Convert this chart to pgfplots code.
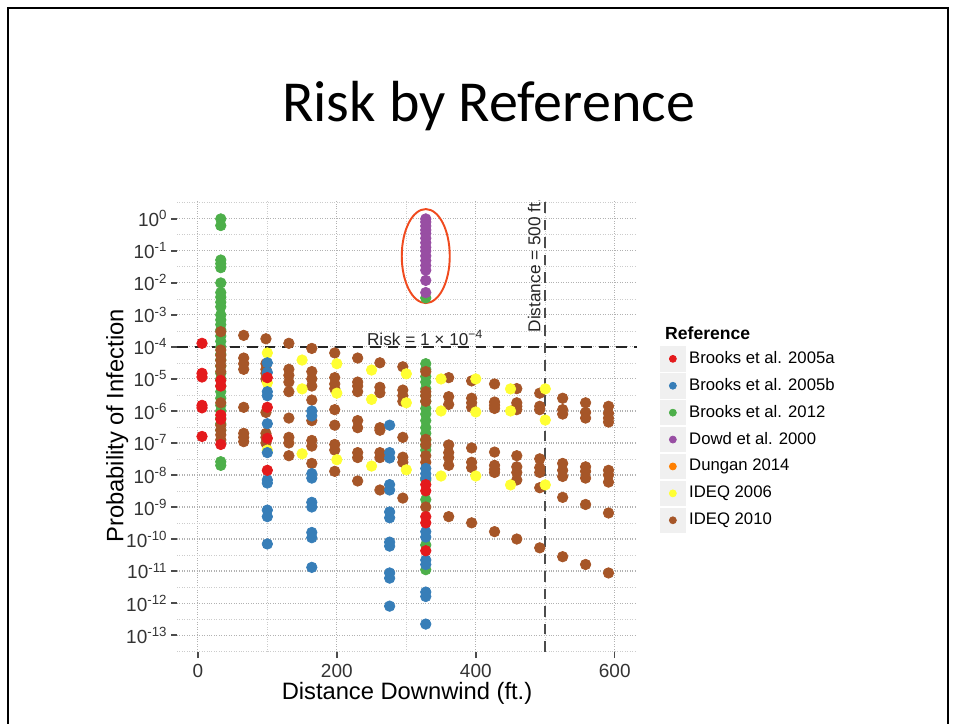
\documentclass[border=0pt]{standalone}
\usepackage{pgfplots}
\pgfplotsset{compat=1.18}
\usepackage{fontspec}
\setmainfont{Liberation Sans}
\newfontfamily\titlefont{Carlito}
\definecolor{cRed}{HTML}{E41A1C}
\definecolor{cBlue}{HTML}{377EB8}
\definecolor{cGreen}{HTML}{4DAF4A}
\definecolor{cPurple}{HTML}{984EA3}
\definecolor{cOrange}{HTML}{FF7F00}
\definecolor{cYellow}{HTML}{FFFF33}
\definecolor{cBrown}{HTML}{A65628}
\definecolor{ringcol}{HTML}{F04A1E}
\begin{document}
\begin{tikzpicture}
\useasboundingbox (0,0) rectangle (19.12,14.46);
% slide frame
\draw[line width=0.04cm] (0.16,-0.5) -- (0.16,14.30) -- (18.96,14.30) -- (18.96,-0.5);
\node[anchor=base, font=\titlefont\fontsize{33}{36}\selectfont] at (9.77,12.02) {Risk by Reference};
\begin{axis}[
  at={(3.54cm,1.42cm)}, anchor=south west,
  scale only axis, width=9.2cm, height=9.04cm,
  ymode=log, log basis y=10,
  xmin=-30, xmax=632,
  ymin=2.95e-14, ymax=3.9,
  xtick={0,200,400,600},
  minor xtick={100,300,500},
  ytick={1,1e-1,1e-2,1e-3,1e-4,1e-5,1e-6,1e-7,1e-8,1e-9,1e-10,1e-11,1e-12,1e-13},
  yticklabels={10\textsuperscript{0},10\textsuperscript{-1},10\textsuperscript{-2},10\textsuperscript{-3},10\textsuperscript{-4},10\textsuperscript{-5},10\textsuperscript{-6},10\textsuperscript{-7},10\textsuperscript{-8},10\textsuperscript{-9},10\textsuperscript{-10},10\textsuperscript{-11},10\textsuperscript{-12},10\textsuperscript{-13}},
  minor ytick={3.162,3.162e-1,3.162e-2,3.162e-3,3.162e-4,3.162e-5,3.162e-6,3.162e-7,3.162e-8,3.162e-9,3.162e-10,3.162e-11,3.162e-12,3.162e-13,3.162e-14},
  grid=both,
  major grid style={densely dotted, black!30, line width=0.6pt},
  minor grid style={densely dotted, black!20, line width=0.5pt},
  axis line style={draw=none},
  tick align=outside, xtick pos=bottom, ytick pos=left,
  major tick length=0.12cm, minor tick length=0pt,
  every tick/.style={black!70, line width=0.8pt},
  /pgf/number format/assume math mode=true,
  tick label style={font=\fontsize{10.8}{12}\selectfont, text=black!80},
  yticklabel style={xshift=1.5pt},
  xlabel={Distance Downwind (ft.)},
  ylabel={Probability of Infection},
  xlabel style={at={(axis description cs:0.5,-0.0907)}, anchor=center, font=\fontsize{13.5}{15}\selectfont},
  ylabel style={at={(axis description cs:-0.13,0.5)}, anchor=center, font=\fontsize{13.5}{15}\selectfont},
  every axis plot/.append style={only marks, mark=*, mark size=3.0pt},
  legend image code/.code={
    \fill[black!6] (0cm,-0.243cm) rectangle (0.486cm,0.243cm);
    \draw[mark size=2pt, mark repeat=2, mark phase=2] plot coordinates {(0cm,0cm) (0.243cm,0cm) (0.486cm,0cm)};
  },
  legend cell align=left,
  legend style={at={(1.05,0.677)}, anchor=north west, draw=none, fill=none,
    inner sep=0pt, row sep=0.038cm, font=\fontsize{9.5}{11}\selectfont,
    nodes={inner sep=0.5pt},
    /tikz/every odd column/.append style={column sep=0.06cm}},
]
% Brooks et al. 2012
\addplot[cGreen, forget plot] coordinates {
(33,1)(33,0.62)(33,0.052)(33,0.04)(33,0.03)(33,0.01)(33,0.005)(33,0.0036)(33,0.0025)(33,0.0018)
(33,1e-3)(33,7e-4)(33,5e-4)(33,3.4e-4)(33,2.2e-4)(33,1.5e-4)(33,1e-4)(33,6e-5)(33,4e-5)(33,2.5e-5)
(33,1.5e-5)(33,1e-5)(33,6e-6)(33,4e-6)(33,2.5e-6)(33,1.5e-6)(33,1e-6)(33,6e-7)(33,4e-7)(33,2.5e-7)
(33,2.6e-8)(33,2e-8)
(328,0.0034)
(328,3e-5)(328,2e-5)(328,1.2e-5)(328,8e-6)(328,5e-6)(328,3e-6)(328,2e-6)(328,1.2e-6)(328,8e-7)
(328,5e-7)(328,3e-7)(328,2e-7)(328,1.2e-7)(328,8e-8)(328,6e-8)(328,7e-9)(328,1.7e-9)(328,6.5e-11)(328,1.1e-11)
};
% Dowd et al. 2000
\addplot[cPurple, forget plot] coordinates {
(328,1)(328,0.8)(328,0.6)(328,0.45)(328,0.35)(328,0.25)(328,0.18)(328,0.13)(328,0.1)(328,0.07)
(328,0.05)(328,0.035)(328,0.025)(328,0.012)(328,0.005)
};
% IDEQ 2010
\addplot[cBrown, forget plot] coordinates {
(33,3e-4)(33,8e-5)(33,5.5e-5)(33,3.8e-5)(33,2.6e-5)(33,1.7e-5)(33,1.8e-6)(33,3.6e-7)(33,2.5e-7)(33,1.8e-7)(33,1.25e-7)
(66,2.3e-4)(66,4.5e-5)(66,3e-5)(66,2e-5)(66,1.3e-6)(66,2e-7)(66,1.5e-7)(66,1.1e-7)
(98,1.8e-4)(98,3e-5)(98,2e-5)(98,1.5e-5)(98,1e-5)(98,9e-7)(98,2e-7)(98,1.5e-7)(98,1e-7)
(131,1.3e-4)(131,2e-5)(131,1.3e-5)(131,8e-6)(131,4e-6)(131,6e-7)(131,1.5e-7)(131,1e-7)(131,4e-8)
(164,9e-5)(164,1.7e-5)(164,1e-5)(164,6e-6)(164,2.2e-6)(164,5e-7)(164,1.2e-7)(164,8e-8)(164,2.3e-8)
(197,6.5e-5)(197,1.1e-5)(197,7e-6)(197,5e-6)(197,1.1e-6)(197,3.6e-7)(197,9e-8)(197,6e-8)(197,1.3e-8)
(230,4.5e-5)(230,8e-6)(230,6e-6)(230,4e-6)(230,5e-7)(230,3e-7)(230,5e-8)(230,3.5e-8)(230,6.5e-9)
(262,3.2e-5)(262,5.5e-6)(262,3.7e-6)(262,3e-7)(262,2.5e-7)(262,5e-8)(262,3.5e-8)(262,3.4e-9)
(295,2.4e-5)(295,4.5e-6)(295,3e-6)(295,2e-6)(295,1.5e-7)(295,3.6e-8)(295,2.5e-8)(295,1.9e-9)
(328,1.7e-5)(328,4e-6)(328,3e-6)(328,2e-6)(328,1.3e-7)(328,9e-8)(328,4e-8)(328,2.5e-8)(328,1e-9)
(361,1.1e-5)(361,2.8e-6)(361,1.6e-6)(361,8.7e-8)(361,5e-8)(361,3.5e-8)(361,2e-8)(361,5e-10)
(394,8.7e-6)(394,2.5e-6)(394,1.8e-6)(394,1.3e-6)(394,7e-8)(394,2.5e-8)(394,1.7e-8)(394,3.2e-10)
(427,7e-6)(427,1.9e-6)(427,1.5e-6)(427,1.2e-6)(427,5.2e-8)(427,2e-8)(427,1.5e-8)(427,1.2e-8)(427,1.7e-10)
(459,5e-6)(459,1.8e-6)(459,1.4e-6)(459,1.1e-6)(459,4e-8)(459,1.8e-8)(459,1.2e-8)(459,7e-9)(459,1e-10)
(492,3.6e-6)(492,1.4e-6)(492,1.1e-6)(492,3.2e-8)(492,1.7e-8)(492,1.2e-8)(492,4e-9)(492,5.3e-11)
(525,2.5e-6)(525,1.1e-6)(525,8e-7)(525,2.3e-8)(525,1.4e-8)(525,9e-9)(525,2e-9)(525,2.8e-11)
(558,1.8e-6)(558,9e-7)(558,6e-7)(558,1.8e-8)(558,1.3e-8)(558,8e-9)(558,1.2e-9)(558,1.6e-11)
(591,1.4e-6)(591,8.5e-7)(591,6e-7)(591,4.5e-7)(591,1.4e-8)(591,1e-8)(591,6e-9)(591,6.5e-10)(591,8.7e-12)
};
% IDEQ 2006
\addplot[cYellow, forget plot] coordinates {
(100,6.5e-5)(100,7.6e-6)(100,6e-8)
(150,3.9e-5)(150,4.9e-6)(150,4.6e-8)
(200,3e-5)(200,3.6e-6)(200,3e-8)
(250,1.9e-5)(250,2.3e-6)(250,1.9e-8)
(300,1.45e-5)(300,1.8e-6)(300,1.45e-8)
(350,1e-5)(350,1e-6)(350,9.3e-9)
(400,1e-5)(400,9.3e-7)(400,9.3e-9)
(450,4.9e-6)(450,1e-6)(450,4.9e-9)
(500,4.9e-6)(500,5.2e-7)(500,4.9e-9)
};
% Brooks et al. 2005b
\addplot[cBlue, forget plot] coordinates {
(100,3.2e-5)(100,1.6e-5)(100,4e-6)(100,3e-6)(100,4e-7)(100,5e-8)(100,7e-9)(100,5.6e-9)(100,8e-10)(100,5e-10)(100,7e-11)
(164,1e-6)(164,7e-7)(164,1.1e-8)(164,8e-9)(164,1.4e-9)(164,1e-9)(164,1.6e-10)(164,1.1e-10)(164,1.3e-11)
(276,3.6e-7)(276,5e-8)(276,3.4e-8)(276,5e-9)(276,3.4e-9)(276,7e-10)(276,4.6e-10)(276,8e-11)(276,6e-11)(276,8.7e-12)(276,6e-12)(276,8e-13)
(328,1.6e-8)(328,1.1e-8)(328,8e-9)(328,1.7e-10)(328,1.15e-10)(328,2.2e-11)(328,1.6e-11)(328,2.2e-12)(328,1.6e-12)(328,2.2e-13)
};
% Brooks et al. 2005a
\addplot[cRed, forget plot] coordinates {
(6,1.3e-4)(6,1.5e-5)(6,1.15e-5)(6,1.5e-6)(6,1.25e-6)(6,1.6e-7)
(33,9e-6)(33,6e-6)(33,7.5e-7)(33,5.5e-7)(33,9e-8)
(100,1.1e-5)(100,1.3e-6)(100,1.4e-7)(100,1.4e-8)
(328,5e-9)(328,3.2e-9)(328,5e-10)(328,3.2e-10)(328,4.3e-11)
};
% reference lines and notes
\draw[dash pattern=on 6pt off 4pt, black!85, line width=1.1pt]
  ({rel axis cs:0,0}|-{axis cs:0,1e-4}) -- ({rel axis cs:1,0}|-{axis cs:0,1e-4});
\draw[dash pattern=on 6pt off 4pt, black!70, line width=1.1pt]
  ({axis cs:500,1}|-{rel axis cs:0,0}) -- ({axis cs:500,1}|-{rel axis cs:0,1});
\node[font=\fontsize{9.8}{11}\selectfont, text=black!85] at (axis cs:327,1.9e-4) {Risk = 1 × 10\textsuperscript{−4}};
\node[font=\fontsize{9.8}{11}\selectfont, text=black!85, rotate=90] at (axis cs:484,0.036) {Distance = 500 ft.};
\draw[ringcol, line width=1.1pt] (axis cs:328,0.069) ellipse [x radius=0.48cm, y radius=0.94cm];
% legend
\addlegendimage{cRed}\addlegendentry{Brooks et al. 2005a}
\addlegendimage{cBlue}\addlegendentry{Brooks et al. 2005b}
\addlegendimage{cGreen}\addlegendentry{Brooks et al. 2012}
\addlegendimage{cPurple}\addlegendentry{Dowd et al. 2000}
\addlegendimage{cOrange}\addlegendentry{Dungan 2014}
\addlegendimage{cYellow}\addlegendentry{IDEQ 2006}
\addlegendimage{cBrown}\addlegendentry{IDEQ 2010}
\end{axis}
\node[anchor=west, font=\bfseries\fontsize{10}{12}\selectfont] at (13.18,7.80) {Reference};
\end{tikzpicture}
\end{document}
